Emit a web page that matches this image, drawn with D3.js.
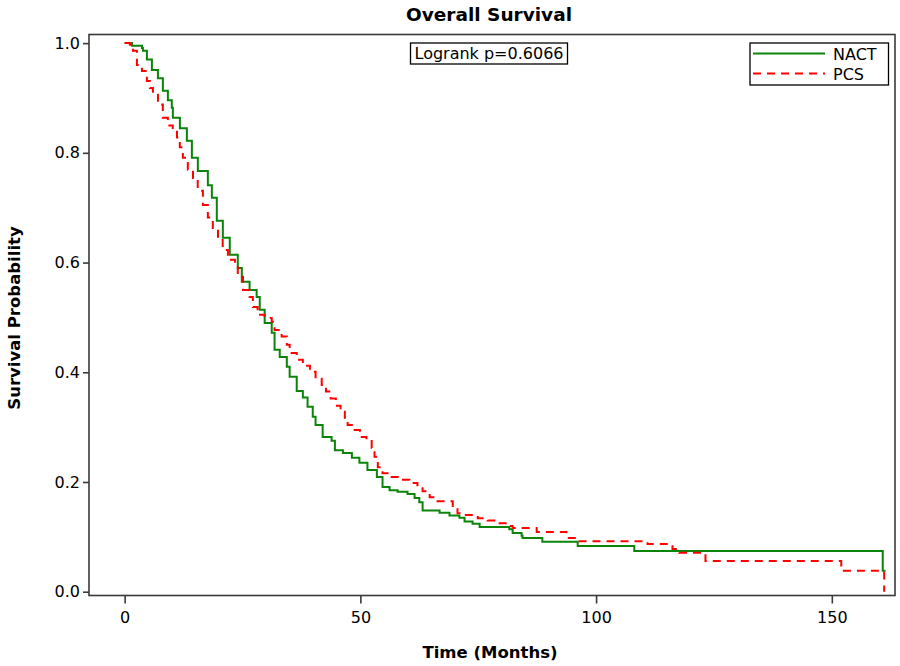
<!DOCTYPE html>
<html>
<head>
<meta charset="utf-8">
<script src="https://cdn.jsdelivr.net/npm/d3@7"></script>
<style>
  html, body { margin: 0; padding: 0; background: #fff; }
  svg { display: block; }
  text { font-family: "DejaVu Sans", Verdana, sans-serif; fill: #000; }
</style>
</head>
<body>
<svg id="chart" width="900" height="666"></svg>
<script>
// ---- Data ----
const title = "Overall Survival";
const xLabel = "Time (Months)";
const yLabel = "Survival Probability";
const logrankText = "Logrank p=0.6066";
const seriesNames = ["NACT", "PCS"];
const xTicks = [0, 50, 100, 150];
const yTicks = [0.0, 0.2, 0.4, 0.6, 0.8, 1.0];

// NACT: event times (months) and survival after each step
const nactTime = [0, 1.55, 3.67, 3.88, 4.72, 5.78, 7.06, 8.11, 9.17, 10.0, 10.23, 11.72, 13.2, 14.26, 15.53, 17.65, 18.5, 19.55, 20.83, 22.3, 24.0, 24.85, 26.5, 28.0, 28.66, 29.7, 31.2, 31.8, 32.9, 34.4, 35.0, 36.5, 37.8, 38.8, 39.9, 40.5, 42.0, 43.9, 44.6, 46.3, 48.2, 49.8, 51.5, 53.5, 54.7, 56.2, 57.9, 60.0, 61.5, 62.5, 63.2, 66.8, 68.9, 71.0, 72.1, 73.8, 75.3, 81.6, 82.3, 84.2, 84.4, 88.6, 96.1, 108.1, 160.8, 161.4];
const nactSurv = [1.0, 0.995, 0.991, 0.986, 0.970, 0.951, 0.936, 0.913, 0.896, 0.882, 0.864, 0.845, 0.822, 0.791, 0.767, 0.741, 0.718, 0.676, 0.645, 0.614, 0.590, 0.565, 0.550, 0.537, 0.514, 0.490, 0.472, 0.441, 0.428, 0.410, 0.392, 0.366, 0.354, 0.337, 0.319, 0.304, 0.282, 0.275, 0.258, 0.253, 0.244, 0.235, 0.222, 0.209, 0.191, 0.185, 0.182, 0.178, 0.171, 0.163, 0.148, 0.144, 0.139, 0.135, 0.128, 0.124, 0.118, 0.114, 0.107, 0.102, 0.098, 0.091, 0.0834, 0.0743, 0.038, 0.038];

// PCS: event times (months) and survival after each step
const pcsTime = [0, 1.1, 1.76, 2.6, 3.67, 4.72, 5.36, 6.0, 7.06, 8.1, 9.17, 10.2, 11.1, 11.7, 12.35, 13.4, 14.5, 15.5, 16.6, 17.65, 18.7, 19.8, 20.8, 21.9, 23.4, 24.0, 25.1, 26.5, 27.2, 28.2, 29.7, 31.2, 31.8, 33.3, 34.4, 35.0, 36.5, 37.8, 39.3, 40.5, 41.8, 42.7, 43.7, 44.8, 45.8, 46.7, 47.3, 48.8, 49.9, 51.3, 52.4, 53.0, 53.7, 54.7, 56.2, 58.3, 60.4, 62.1, 63.2, 64.7, 65.8, 69.6, 70.6, 72.1, 74.9, 77.0, 78.9, 81.2, 82.3, 87.4, 93.7, 95.8, 96.5, 110.9, 116.2, 117.6, 123.2, 152.0, 161.1];
const pcsSurv = [1.0, 0.997, 0.986, 0.960, 0.949, 0.931, 0.918, 0.906, 0.888, 0.864, 0.850, 0.842, 0.828, 0.810, 0.791, 0.769, 0.754, 0.731, 0.705, 0.682, 0.663, 0.641, 0.623, 0.605, 0.592, 0.574, 0.550, 0.537, 0.519, 0.505, 0.499, 0.492, 0.477, 0.465, 0.450, 0.435, 0.423, 0.412, 0.401, 0.388, 0.377, 0.365, 0.352, 0.339, 0.328, 0.317, 0.304, 0.295, 0.282, 0.277, 0.262, 0.246, 0.227, 0.216, 0.209, 0.204, 0.198, 0.194, 0.183, 0.172, 0.165, 0.154, 0.143, 0.140, 0.134, 0.130, 0.125, 0.120, 0.116, 0.109, 0.098, 0.094, 0.092, 0.087, 0.078, 0.071, 0.056, 0.038, 0.0];

// ---- Layout ----
const frame = { left: 89, right: 895, top: 34.5, bottom: 595.5 };
const green = "#0a850a";
const red = "#ff0000";

const svg = d3.select("#chart");

const x = d3.scaleLinear().domain([-7.56, 163.4]).range([frame.left, frame.right]);
const y = d3.scaleLinear().domain([-0.0069, 1.0157]).range([frame.bottom, frame.top]);

// Curves
const line = d3.line().x(d => x(d[0])).y(d => y(d[1])).curve(d3.curveStepAfter);
const nact = nactTime.map((t, i) => [t, nactSurv[i]]);
const pcs = pcsTime.map((t, i) => [t, pcsSurv[i]]);

svg.append("path").datum(nact)
  .attr("d", line).attr("fill", "none")
  .attr("stroke", green).attr("stroke-width", 2);

svg.append("path").datum(pcs)
  .attr("d", line).attr("fill", "none")
  .attr("stroke", red).attr("stroke-width", 2)
  .attr("stroke-dasharray", "8,6");

// Frame
svg.append("rect")
  .attr("x", frame.left).attr("y", frame.top)
  .attr("width", frame.right - frame.left).attr("height", frame.bottom - frame.top)
  .attr("fill", "none").attr("stroke", "#3a3a3a").attr("stroke-width", 1.6);

// Axes
const xAxis = d3.axisBottom(x).tickValues(xTicks).tickSize(8).tickPadding(8).tickFormat(d3.format("d"));
const gx = svg.append("g").attr("transform", `translate(0,${frame.bottom})`).call(xAxis);
gx.select(".domain").remove();
gx.selectAll(".tick line").attr("stroke", "#3a3a3a").attr("stroke-width", 1.6);
gx.selectAll(".tick text").attr("font-size", 16).attr("font-family", "DejaVu Sans").attr("fill", "#000");

const yAxis = d3.axisLeft(y).tickValues(yTicks).tickSize(6).tickPadding(3).tickFormat(d3.format(".1f"));
const gy = svg.append("g").attr("transform", `translate(${frame.left},0)`).call(yAxis);
gy.select(".domain").remove();
gy.selectAll(".tick line").attr("stroke", "#3a3a3a").attr("stroke-width", 1.6);
gy.selectAll(".tick text").attr("font-size", 16).attr("font-family", "DejaVu Sans").attr("fill", "#000");

// Titles
svg.append("text").attr("x", 489).attr("y", 21).attr("text-anchor", "middle")
  .attr("font-size", 18.5).attr("font-weight", "bold").text(title);
svg.append("text").attr("x", 490).attr("y", 658).attr("text-anchor", "middle")
  .attr("font-size", 16.5).attr("font-weight", "bold").text(xLabel);
svg.append("text").attr("transform", `translate(20,${(frame.top + frame.bottom) / 2 + 3}) rotate(-90)`)
  .attr("text-anchor", "middle")
  .attr("font-size", 16.5).attr("font-weight", "bold").text(yLabel);

// Logrank box
const lr = svg.append("g");
lr.append("rect").attr("x", 410.5).attr("y", 43).attr("width", 157).attr("height", 21)
  .attr("fill", "#fff").attr("stroke", "#000").attr("stroke-width", 1.3);
lr.append("text").attr("x", 489).attr("y", 59).attr("text-anchor", "middle")
  .attr("font-size", 16).text(logrankText);

// Legend
const lg = svg.append("g");
lg.append("rect").attr("x", 750).attr("y", 43).attr("width", 138.5).attr("height", 42)
  .attr("fill", "#fff").attr("stroke", "#000").attr("stroke-width", 1.3);
const legendItems = [
  { name: seriesNames[0], color: green, dash: null, yy: 53.5 },
  { name: seriesNames[1], color: red, dash: "8,6", yy: 73.5 }
];
legendItems.forEach(it => {
  lg.append("line").attr("x1", 753).attr("x2", 825).attr("y1", it.yy).attr("y2", it.yy)
    .attr("stroke", it.color).attr("stroke-width", 2)
    .attr("stroke-dasharray", it.dash);
  lg.append("text").attr("x", 833).attr("y", it.yy + 6).attr("font-size", 16).text(it.name);
});
</script>
</body>
</html>
